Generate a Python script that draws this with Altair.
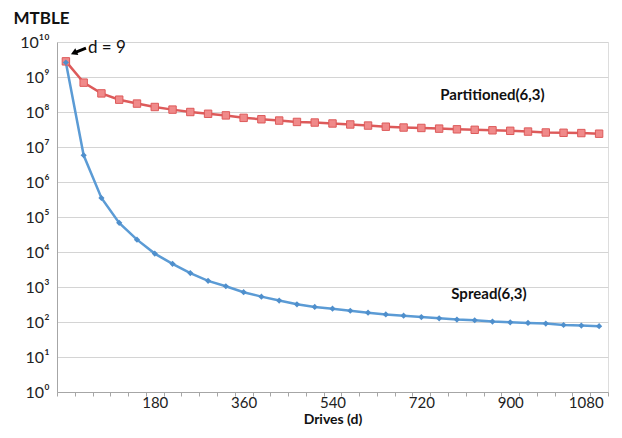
import altair as alt
import pandas as pd

# ---- data ----
drives = [9, 36, 72, 108, 144, 180, 216, 252, 288, 324, 360, 396, 432, 468, 504,
          540, 576, 612, 648, 684, 720, 756, 792, 828, 864, 900, 936, 972, 1008, 1044, 1080]
partitioned = [2.8e9, 6.9e8, 3.4e8, 2.25e8, 1.74e8, 1.39e8, 1.17e8, 1.0e8, 8.9e7, 8.0e7,
               6.8e7, 6.2e7, 5.7e7, 5.2e7, 5.0e7, 4.7e7, 4.4e7, 4.1e7, 3.8e7, 3.6e7,
               3.5e7, 3.35e7, 3.2e7, 3.1e7, 3.0e7, 2.9e7, 2.76e7, 2.6e7, 2.55e7, 2.5e7, 2.4e7]
spread = [2.6e9, 5.8e6, 3.5e5, 6.8e4, 2.25e4, 9.0e3, 4.6e3, 2.5e3, 1.5e3, 1.05e3,
          7.1e2, 5.3e2, 4.1e2, 3.2e2, 2.7e2, 2.4e2, 2.1e2, 1.85e2, 1.65e2, 1.52e2,
          1.38e2, 1.27e2, 1.17e2, 1.12e2, 1.03e2, 98, 94, 90, 82, 79, 76]
label_drives = [180, 360, 540, 720, 900, 1080]
y_exponents = [0, 1, 2, 3, 4, 5, 6, 7, 8, 9, 10]

series_labels = ["Partitioned(6,3)", "Spread(6,3)"]
series_label_pos = [(24.0, 3.0e8), (23.8, 6.3e2)]

FONT = "Lato, DejaVu Sans"
RED_LINE = "#dd5a5a"
RED_FILL = "#f08a8a"
BLUE = "#5b9bd5"

idx = list(range(len(drives)))
df_p = pd.DataFrame({"i": idx, "d": drives, "v": partitioned})
df_s = pd.DataFrame({"i": idx, "d": drives, "v": spread})

label_idx = [drives.index(v) for v in label_drives]
tick_vals = [k - 0.5 for k in range(len(drives) + 1)]
expr = "''"
for k, v in zip(reversed(label_idx), reversed(label_drives)):
    expr = f"datum.value == {k} ? '{v}' : ({expr})"

sup = {"0": "⁰", "1": "¹", "2": "²", "3": "³", "4": "⁴", "5": "⁵",
       "6": "⁶", "7": "⁷", "8": "⁸", "9": "⁹"}
yexpr = "''"
for e in reversed(y_exponents):
    s = "10" + "".join(sup[c] for c in str(e))
    yexpr = f"datum.value == {10**e} ? '{s}' : ({yexpr})"

x_scale = alt.Scale(domain=[-0.5, len(drives) - 0.5], nice=False, zero=False)
y_scale = alt.Scale(type="log", domain=[1, 1e10], nice=False)

x_label_axis = alt.Axis(
    orient="bottom", values=label_idx, labelExpr=expr, grid=False, title="Drives (d)",
    ticks=False, tickSize=0, domainColor="#a6a6a6",
    labelFont=FONT, labelFontSize=15, labelColor="#222222",
    labelPadding=3, labelFlush=10, labelFlushOffset=4, labelOverlap=False,
    titleFont=FONT, titleFontSize=14, titleFontWeight="bold", titleColor="#111111",
    titlePadding=2,
)
x_tick_axis = alt.Axis(
    orient="bottom", values=tick_vals, labels=False, grid=False, domain=False,
    ticks=True, tickSize=4, tickColor="#a6a6a6", title=None,
)
y_axis = alt.Axis(
    values=[10**e for e in y_exponents], labelExpr=yexpr, grid=True,
    gridColor="#d4d4d4", ticks=False, domainColor="#a6a6a6",
    labelFont=FONT, labelFontSize=16, labelColor="#222222", labelPadding=8,
    title="MTBLE", titleAngle=0, titleAlign="left", titleBaseline="alphabetic",
    titleX=-44, titleY=-19, titleFont=FONT, titleFontSize=17,
    titleFontWeight="bold", titleColor="#111111",
)

red_line = alt.Chart(df_p).mark_line(color=RED_LINE, strokeWidth=2.5).encode(
    x=alt.X("i:Q", scale=x_scale, axis=x_label_axis),
    y=alt.Y("v:Q", scale=y_scale, axis=y_axis))
blue_line = alt.Chart(df_s).mark_line(color=BLUE, strokeWidth=2.5).encode(
    x="i:Q", y="v:Q")
red_pts = alt.Chart(df_p).mark_point(
    shape="square", size=55, filled=True, fill=RED_FILL, stroke=RED_LINE,
    strokeWidth=1, opacity=1).encode(x="i:Q", y="v:Q")
blue_pts = alt.Chart(df_s).mark_point(
    shape="diamond", size=38, filled=True, fill="#4f8fcc", opacity=1).encode(x="i:Q", y="v:Q")

lab_df = pd.DataFrame({"t": series_labels,
                       "i": [p[0] for p in series_label_pos],
                       "v": [p[1] for p in series_label_pos]})
labels = alt.Chart(lab_df).mark_text(
    font=FONT, fontSize=15, fontWeight="bold", color="#111111", align="center",
    baseline="middle").encode(x="i:Q", y="v:Q", text="t:N")

ann_df = pd.DataFrame({"t": ["d = 9"], "i": [1.24], "v": [6.7e9]})
ann = alt.Chart(ann_df).mark_text(
    font=FONT, fontSize=17, color="#111111", align="left", baseline="middle"
).encode(x="i:Q", y="v:Q", text="t:N")

arrow_df = pd.DataFrame({"i": [1.13], "v": [6.7e9], "i2": [0.5], "v2": [4.95e9]})
arrow_shaft = alt.Chart(arrow_df).mark_rule(color="black", strokeWidth=3).encode(
    x="i:Q", y="v:Q", x2="i2:Q", y2="v2:Q")
head_df = pd.DataFrame({"i": [0.45], "v": [4.85e9]})
arrow_head = alt.Chart(head_df).mark_point(
    shape="triangle-up", size=55, filled=True, color="black", opacity=1, angle=246
).encode(x="i:Q", y="v:Q")

main = alt.layer(red_line, blue_line, red_pts, blue_pts, labels, ann,
                 arrow_shaft, arrow_head)

tick_layer = alt.Chart(df_p).mark_point(opacity=0).encode(
    x=alt.X("i:Q", scale=x_scale, axis=x_tick_axis),
    y=alt.Y("v:Q", scale=y_scale))

chart = alt.layer(main, tick_layer).resolve_axis(x="independent").properties(
    width=551, height=350,
    autosize=alt.AutoSizeParams(type="none"),
    padding={"left": 49, "top": 34, "right": 6, "bottom": 38},
).configure_view(stroke=None).configure(background="white")

chart.save("out.html", embed_options={"renderer": "svg", "actions": False})
